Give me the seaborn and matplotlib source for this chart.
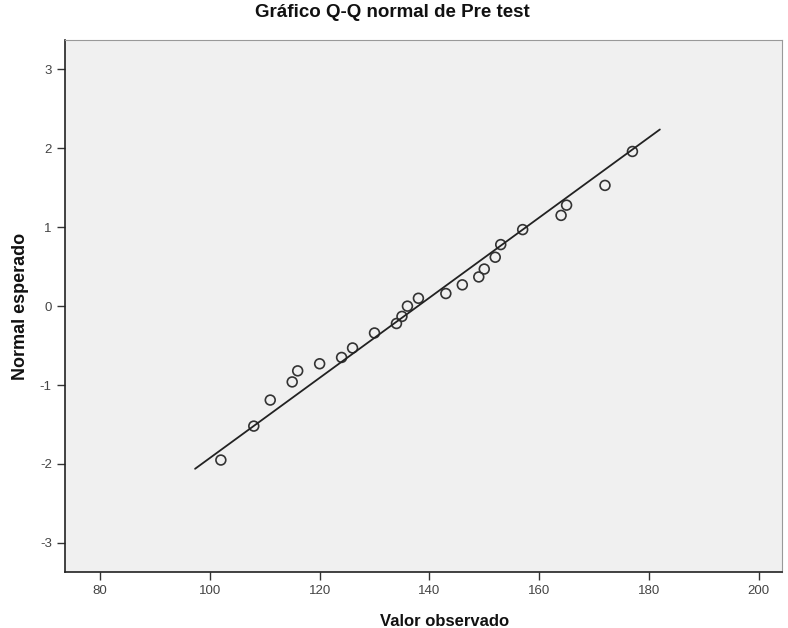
import numpy as np
import pandas as pd
import matplotlib
matplotlib.use('Agg')
import matplotlib.pyplot as plt
import seaborn as sns

observed = [102, 108, 111, 115, 116, 120, 124, 126, 130, 134, 135, 136,
            138, 143, 146, 149, 150, 152, 153, 157, 164, 165, 172, 177]
expected = [-1.95, -1.52, -1.19, -0.96, -0.82, -0.73, -0.65, -0.53, -0.34, -0.22, -0.13, 0.00,
            0.10, 0.16, 0.27, 0.37, 0.47, 0.62, 0.78, 0.97, 1.15, 1.28, 1.53, 1.96]

# reference line (mean / sd) and its x extent
ref_mean = 137.9
ref_sd = 19.7
ref_x = [97.3, 182.0]

x_ticks = [80, 100, 120, 140, 160, 180, 200]
y_ticks = [-3, -2, -1, 0, 1, 2, 3]

df = pd.DataFrame({'obs': observed, 'exp': expected})
line_df = pd.DataFrame({'x': ref_x})
line_df['y'] = (line_df['x'] - ref_mean) / ref_sd

sns.set_style('white')
plt.rcParams['font.family'] = ['Liberation Sans', 'DejaVu Sans']
plt.rcParams['axes.unicode_minus'] = False

fig = plt.figure(figsize=(7.88, 6.28), dpi=100)
ax = fig.add_axes([0.0825, 0.089, 0.9095, 0.847])
ax.set_facecolor('#f0f0f0')

sns.lineplot(data=line_df, x='x', y='y', color='#222222', linewidth=1.3, ax=ax)
sns.scatterplot(data=df, x='obs', y='exp', s=50, facecolor='none',
                edgecolor='#333333', linewidth=1.2, ax=ax)

ax.set_xlim(73.6, 204.2)
ax.set_ylim(-3.37, 3.37)
ax.set_xticks(x_ticks)
ax.set_yticks(y_ticks)
ax.tick_params(axis='both', direction='out', length=6, width=1, color='#333333',
               labelsize=9.5, labelcolor='#444444', left=True, bottom=True)

for side in ['left', 'bottom']:
    ax.spines[side].set_color('#222222')
    ax.spines[side].set_linewidth(1.2)
for side in ['top', 'right']:
    ax.spines[side].set_color('#999999')
    ax.spines[side].set_linewidth(0.8)

ax.set_title('Gráfico Q-Q normal de Pre test', fontsize=13.5, fontweight='bold',
             pad=17, color='#111111', x=0.457)
ax.set_xlabel('Valor observado', fontsize=12, fontweight='bold', color='#111111')
ax.set_ylabel('Normal esperado', fontsize=13, fontweight='bold', color='#111111')
ax.xaxis.set_label_coords(0.53, -0.078)
ax.yaxis.set_label_coords(-0.05, 0.5)

plt.savefig('out.png', dpi=100)
